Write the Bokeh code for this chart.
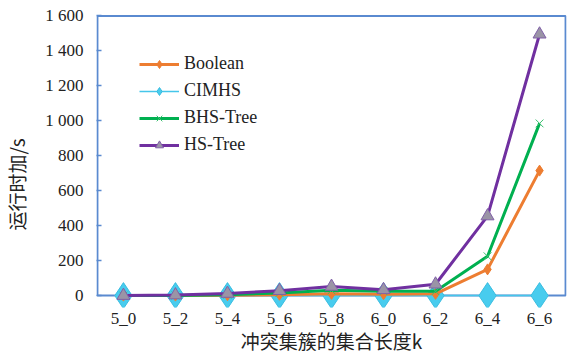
from bokeh.plotting import figure
from bokeh.models import (Range1d, FactorRange, FixedTicker, BoxAnnotation,
                          Legend, LegendItem)
from bokeh.embed import file_html
from bokeh.resources import INLINE

cats = ["5_0", "5_2", "5_4", "5_6", "5_8", "6_0", "6_2", "6_4", "6_6"]
boolean = [0, 0, 2, 5, 10, 8, 10, 150, 715]
cimhs = [0, 0, 0, 0, 0, 0, 0, 0, 0]
bhs = [0, 1, 5, 15, 30, 25, 25, 225, 985]
hs = [0, 3, 12, 28, 52, 33, 65, 455, 1495]
y_ticks = [0, 200, 400, 600, 800, 1000, 1200, 1400, 1600]
y_tick_labels = ["0", "200", "400", "600", "800", "1 000", "1 200", "1 400", "1 600"]

BLUE = "#5A8AD0"
SERIF = "Liberation Serif"
CJK = "Noto Sans CJK SC"

p = figure(width=568, height=356,
           x_range=FactorRange(*cats, range_padding=0.004),
           y_range=Range1d(-68, 1608), output_backend="svg", toolbar_location=None,
           min_border_left=95, min_border_right=2, min_border_top=14, min_border_bottom=47)
p.outline_line_color = None
p.xgrid.visible = False
p.ygrid.visible = False

p.add_layout(BoxAnnotation(left=0, right=len(cats), bottom=0, top=y_ticks[-1],
                           fill_color=None, line_color=BLUE, line_alpha=1.0,
                           line_width=2, level="underlay"))

ya = p.yaxis[0]
ya.ticker = FixedTicker(ticks=y_ticks)
ya.major_label_overrides = {t: s for t, s in zip(y_ticks, y_tick_labels)}
ya.axis_line_color = None
ya.major_tick_in = 5
ya.major_tick_out = 0
ya.major_tick_line_color = BLUE
ya.major_tick_line_width = 1.5
ya.minor_tick_line_color = None
ya.major_label_standoff = 13
ya.major_label_text_font = SERIF
ya.major_label_text_font_size = "17px"
ya.major_label_text_color = "#222222"
ya.axis_label = "运行时加/s" + "\u00a0" * 11
ya.axis_label_standoff = 12
ya.axis_label_text_font = CJK
ya.axis_label_text_font_size = "19px"
ya.axis_label_text_font_style = "normal"
ya.axis_label_text_color = "#222222"

xa = p.xaxis[0]
xa.axis_line_color = None
xa.major_tick_line_color = None
xa.minor_tick_line_color = None
xa.major_tick_in = 0
xa.major_tick_out = 0
xa.minor_tick_in = 0
xa.minor_tick_out = 0
xa.major_label_standoff = 1
xa.major_label_text_font = SERIF
xa.major_label_text_font_size = "17px"
xa.major_label_text_color = "#222222"
xa.axis_label = "冲突集簇的集合长度k"
xa.axis_label_standoff = -4
xa.axis_label_text_font = CJK
xa.axis_label_text_font_size = "19px"
xa.axis_label_text_font_style = "normal"
xa.axis_label_text_color = "#222222"

c_line = p.line(cats, cimhs, line_color="#45C6EA", line_width=1.5)
c_mark = p.scatter(cats, cimhs, marker="diamond", size=26, fill_color="#48CCEE",
                   line_color="#3ABDE0", line_width=1)

b_line = p.line(cats, boolean, line_color="#ED7D31", line_width=3)
b_mark = p.scatter(cats, boolean, marker="diamond", size=11, fill_color="#ED7D31",
                   line_color="#ED7D31")

t_line = p.line(cats, bhs, line_color="#00B050", line_width=3)
t_mark = p.scatter(cats, bhs, marker="x", size=11, line_color="#3CC070", line_width=1)

h_line = p.line(cats, hs, line_color="#7030A0", line_width=3)
h_mark = p.scatter(cats, hs, marker="triangle", size=13, fill_color="#9A94A6",
                   line_color="#8060A8", line_width=1)

legend = Legend(items=[
    LegendItem(label="Boolean", renderers=[b_line, b_mark]),
    LegendItem(label="CIMHS", renderers=[c_line, c_mark]),
    LegendItem(label="BHS-Tree", renderers=[t_line, t_mark]),
    LegendItem(label="HS-Tree", renderers=[h_line, h_mark]),
], location=(43, 152))
legend.background_fill_color = None
legend.border_line_color = None
legend.padding = 0
legend.margin = 0
legend.spacing = 6
legend.glyph_width = 40
legend.glyph_height = 20
legend.label_height = 20
legend.label_standoff = 5
legend.label_text_font = SERIF
legend.label_text_font_size = "18px"
legend.label_text_color = "#222222"
p.add_layout(legend)

open("out.html", "w").write(file_html(p, INLINE))
